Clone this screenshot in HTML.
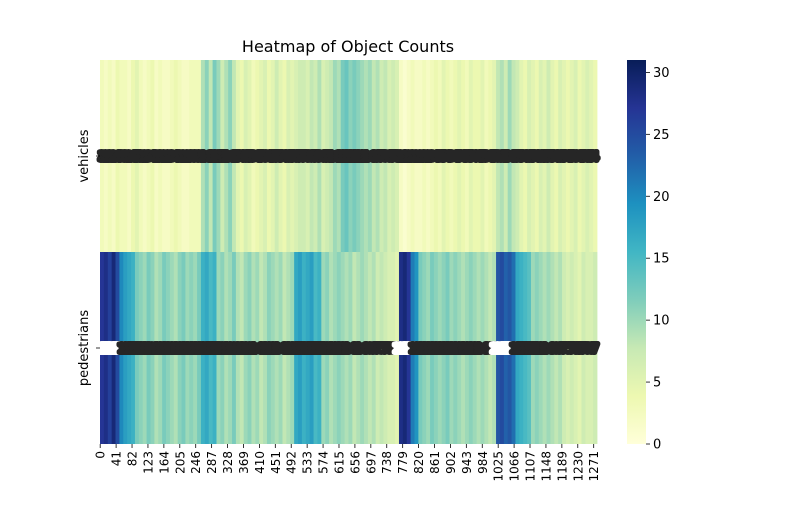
<!DOCTYPE html>
<html><head><meta charset="utf-8"><style>
body{margin:0;background:#fff}
svg{font-family:"DejaVu Sans","Liberation Sans",sans-serif}
</style></head><body>
<svg id="chart" width="800" height="500" viewBox="0 0 800 500">
<text x="348" y="52" text-anchor="middle" font-size="16">Heatmap of Object Counts</text>
<g id="cells"></g>
<g id="annots"></g>
<g id="xaxis"></g>
<g id="yaxis"></g>
<defs><linearGradient id="cbg" x1="0" y1="1" x2="0" y2="0"></linearGradient></defs>
<g id="cbar"></g>
</svg>
<script>
const rowLabels=["vehicles","pedestrians"];
const binSize=10;
const vehicles=[3,2,3,2,4,3,3,2,4,5,3,2,3,4,2,3,2,2,3,4,3,2,2,3,3,3,
9,11,8,12,10,7,9,11,8,
5,4,6,5,3,4,5,6,4,5,7,5,4,6,5,6,7,
7,6,8,7,9,6,7,8,10,9,
12,13,11,12,
11,10,9,10,8,9,7,8,6,7,6,
2,1,2,3,2,2,3,2,3,
4,3,5,4,3,4,5,4,3,5,4,4,5,3,4,5,
8,9,7,10,8,7,
5,4,6,5,4,6,5,7,5,4,6,5,4,5,6,4,5,6,5,4];
const pedestrians=[27,28,26,29,25,
20,18,17,16,
12,11,10,12,11,9,10,12,11,10,9,11,12,10,11,10,12,
16,17,15,16,
10,11,9,10,12,9,8,10,11,9,10,8,9,11,10,9,10,8,9,10,
17,18,16,17,18,15,16,
10,11,9,10,11,10,
9,10,8,9,10,9,8,9,7,8,7,6,6,5,
28,29,27,
21,19,
12,11,10,12,11,10,11,12,10,11,10,9,10,11,10,9,10,9,8,9,
24,25,23,24,22,
17,16,15,14,
10,11,10,9,10,9,8,9,
7,6,7,6,5,7,6,6,7];
const cbTicks=[0,5,10,15,20,25,30];
const vmax=31;
const xTickStep=41;

const NS="http://www.w3.org/2000/svg";
const X0=100,X1=597,Y0=60,Y1=444;
const nCols=vehicles.length*binSize;
const colW=(X1-X0)/nCols;
const rowH=(Y1-Y0)/rowLabels.length;
const xCol=c=>X0+c*colW;
const yRow=r=>Y0+r*rowH;
const stops=["#ffffd9","#edf8b1","#c7e9b4","#7fcdbb","#41b6c4","#1d91c0","#225ea8","#253494","#081d58"];
function hex(h){return [1,3,5].map(i=>parseInt(h.substr(i,2),16));}
function cmap(v){let t=Math.max(0,Math.min(1,v/vmax))*(stops.length-1);let i=Math.min(stops.length-2,Math.floor(t));let f=t-i;const a=hex(stops[i]),b=hex(stops[i+1]);return "rgb("+a.map((x,k)=>Math.round(x+(b[k]-x)*f)).join(",")+")";}
function mk(tag,attrs,parent){const e=document.createElementNS(NS,tag);for(const k in attrs)e.setAttribute(k,attrs[k]);parent.appendChild(e);return e;}
const cells=document.getElementById('cells'),annots=document.getElementById('annots');
[vehicles,pedestrians].forEach((row,r)=>{
 row.forEach((v,i)=>{
  const e=mk('rect',{x:xCol(i*binSize),y:yRow(r),width:colW*binSize+0.4,height:rowH,fill:cmap(v)},cells);
  
  
 });
 row.forEach((v,i)=>{
  const col=v>=20?"#ffffff":"#262626";
  const t=mk('text',{x:xCol(i*binSize+binSize/2),y:yRow(r)+rowH/2+4.5,'text-anchor':'middle','font-size':12,fill:col,stroke:col,'stroke-width':5,'stroke-linejoin':'round'},annots);
  t.textContent=v;
  
  
 });
});
const xa=document.getElementById('xaxis');
for(let c=0;c<nCols;c+=xTickStep){
 const x=xCol(c+0.5);
 mk('line',{x1:x,x2:x,y1:Y1,y2:Y1+4,stroke:'#000','stroke-width':0.8},xa);
 const t=mk('text',{x:0,y:0,transform:`translate(${x+4.5},${Y1+7}) rotate(-90)`,'text-anchor':'end','font-size':12},xa);
 t.textContent=c;
 
 
}
const ya=document.getElementById('yaxis');
rowLabels.forEach((l,r)=>{
 const y=yRow(r)+rowH/2;
 mk('line',{x1:X0-4,x2:X0,y1:y,y2:y,stroke:'#000','stroke-width':0.8},ya);
 const t=mk('text',{x:0,y:0,transform:`translate(${X0-12},${y}) rotate(-90)`,'text-anchor':'middle','font-size':13},ya);
 t.textContent=l;
 
 
});
const g=document.getElementById('cbg');
stops.forEach((s,i)=>mk('stop',{offset:i/(stops.length-1),'stop-color':s},g));
const cb=document.getElementById('cbar');
const CX=627,CW=19;
mk('rect',{x:CX,y:Y0,width:CW,height:Y1-Y0,fill:'url(#cbg)'},cb);
cbTicks.forEach(v=>{
 const y=Y1-(v/vmax)*(Y1-Y0);
 mk('line',{x1:CX+CW,x2:CX+CW+4,y1:y,y2:y,stroke:'#000','stroke-width':0.8},cb);
 const t=mk('text',{x:CX+CW+7,y:y+4.5,'font-size':13},cb);
 t.textContent=v;
 
 
});
</script>
</body></html>
